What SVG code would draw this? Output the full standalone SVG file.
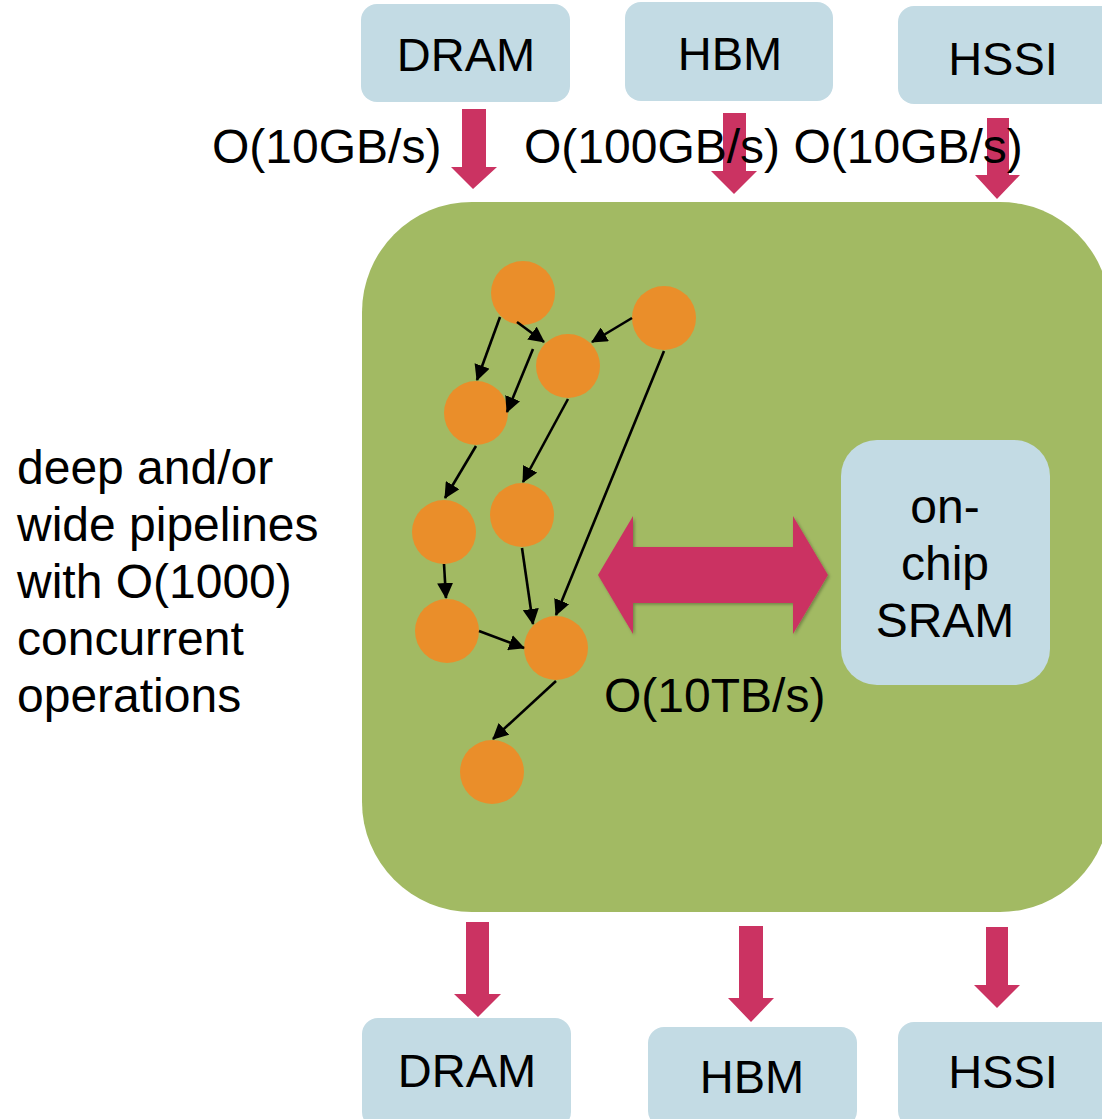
<svg xmlns="http://www.w3.org/2000/svg" width="1102" height="1119" viewBox="0 0 1102 1119">
  <style>
    .mem { fill: #C3DBE4; }
    .lbl { font-family: "Liberation Sans", Arial, sans-serif; font-size: 48px; fill: #000; }
    .box { font-family: "Liberation Sans", Arial, sans-serif; font-size: 47px; fill: #000; text-anchor: middle; }
    .flow { fill: #CB3362; }
    .op { fill: #EA8E2A; }
    .edge { stroke: #000; stroke-width: 2.6; fill: none; marker-end: url(#tip); }
  </style>
  <defs>
    <marker id="tip" markerUnits="userSpaceOnUse" markerWidth="16" markerHeight="16" viewBox="0 0 16 16" refX="15" refY="8" orient="auto">
      <path d="M0,0 L16,8 L0,16 Z" fill="#000"/>
    </marker>
    <filter id="soft" x="-10%" y="-10%" width="130%" height="130%">
      <feDropShadow dx="1.5" dy="1.5" stdDeviation="1.5" flood-color="#000" flood-opacity="0.3"/>
    </filter>
  </defs>

  <rect width="1102" height="1119" fill="#fff"/>

  <!-- FPGA fabric -->
  <g id="fabric">
    <rect x="362" y="202" width="748" height="710" rx="110" ry="110" fill="#A2BA63"/>
  </g>

  <!-- External memories / interfaces, top row -->
  <g id="dram-in">
    <rect class="mem" x="361" y="4" width="209" height="98" rx="16"/>
    <text class="box" x="466" y="71">DRAM</text>
  </g>
  <g id="hbm-in">
    <rect class="mem" x="625" y="2" width="208" height="99" rx="16"/>
    <text class="box" x="730" y="70">HBM</text>
  </g>
  <g id="hssi-in">
    <rect class="mem" x="898" y="6" width="220" height="98" rx="16"/>
    <text class="box" x="1003" y="75">HSSI</text>
  </g>

  <!-- External memories / interfaces, bottom row -->
  <g id="dram-out">
    <rect class="mem" x="362" y="1018" width="209" height="110" rx="16"/>
    <text class="box" x="467" y="1087">DRAM</text>
  </g>
  <g id="hbm-out">
    <rect class="mem" x="648" y="1027" width="209" height="100" rx="16"/>
    <text class="box" x="752" y="1093">HBM</text>
  </g>
  <g id="hssi-out">
    <rect class="mem" x="898" y="1022" width="220" height="105" rx="16"/>
    <text class="box" x="1003" y="1088">HSSI</text>
  </g>

  <!-- On-chip memory -->
  <g id="sram">
    <rect class="mem" x="841" y="440" width="209" height="245" rx="36"/>
    <text class="box" style="font-size:48px" x="945" y="523">on-</text>
    <text class="box" style="font-size:48px" x="945" y="580">chip</text>
    <text class="box" style="font-size:48px" x="945" y="637">SRAM</text>
  </g>

  <!-- Bandwidth arrows -->
  <g id="flows">
    <path class="flow" d="M462,109 H486 V167 H497 L473,189 L451,167 H462 Z"/>
    <path class="flow" d="M723,113 H746 V171 H757 L734,194 L711,171 H723 Z"/>
    <path class="flow" d="M987,118 H1009 V175 H1020 L997,199 L975,175 H987 Z"/>
    <path class="flow" d="M466,922 H489 V994 H501 L478,1017 L454,994 H466 Z"/>
    <path class="flow" d="M739,926 H763 V998 H774 L751,1022 L728,998 H739 Z"/>
    <path class="flow" d="M986,927 H1008 V985 H1020 L997,1008 L974,985 H986 Z"/>
    <path class="flow" filter="url(#soft)" d="M598,575 L633,516 V547 H793 V516 L828,575 L793,634 V603 H633 V634 Z"/>
  </g>

  <!-- Bandwidth labels -->
  <g id="labels">
    <text class="lbl" x="212" y="163">O(10GB/s)</text>
    <text class="lbl" x="524" y="163">O(100GB/s) O(10GB/s)</text>
    <text class="lbl" x="604" y="712">O(10TB/s)</text>
  </g>

  <!-- Pipeline description -->
  <g id="caption">
    <text class="lbl" x="17" y="484">deep and/or</text>
    <text class="lbl" x="17" y="541">wide pipelines</text>
    <text class="lbl" x="17" y="598">with O(1000)</text>
    <text class="lbl" x="17" y="655">concurrent</text>
    <text class="lbl" x="17" y="712">operations</text>
  </g>

  <!-- Dataflow graph: operations -->
  <g id="op1"><circle class="op" cx="523" cy="293" r="32"/></g>
  <g id="op2"><circle class="op" cx="664" cy="318" r="32"/></g>
  <g id="op3"><circle class="op" cx="568" cy="366" r="32"/></g>
  <g id="op4"><circle class="op" cx="476" cy="413" r="32"/></g>
  <g id="op5"><circle class="op" cx="444" cy="532" r="32"/></g>
  <g id="op6"><circle class="op" cx="522" cy="515" r="32"/></g>
  <g id="op7"><circle class="op" cx="447" cy="631" r="32"/></g>
  <g id="op8"><circle class="op" cx="556" cy="648" r="32"/></g>
  <g id="op9"><circle class="op" cx="492" cy="772" r="32"/></g>

  <!-- Dataflow graph: dependencies -->
  <g id="edges">
    <line class="edge" x1="500" y1="317" x2="477" y2="380"/>
    <line class="edge" x1="517" y1="322" x2="544" y2="342"/>
    <line class="edge" x1="533" y1="349" x2="507" y2="412"/>
    <line class="edge" x1="632" y1="318" x2="592" y2="342"/>
    <line class="edge" x1="664" y1="351" x2="556" y2="615"/>
    <line class="edge" x1="568" y1="399" x2="523" y2="482"/>
    <line class="edge" x1="476" y1="446" x2="445" y2="498"/>
    <line class="edge" x1="444" y1="564" x2="446" y2="598"/>
    <line class="edge" x1="522" y1="548" x2="533" y2="624"/>
    <line class="edge" x1="479" y1="631" x2="524" y2="648"/>
    <line class="edge" x1="556" y1="681" x2="493" y2="739"/>
  </g>
</svg>
